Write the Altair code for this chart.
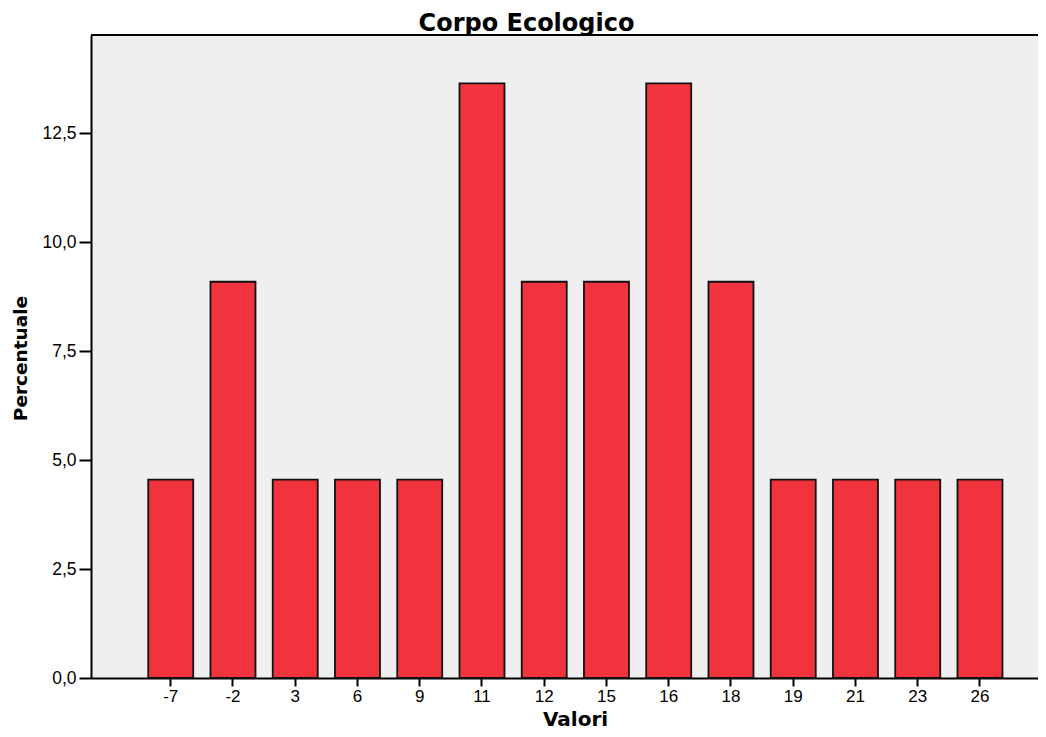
import altair as alt
import pandas as pd

valori = ["-7", "-2", "3", "6", "9", "11", "12", "15", "16", "18", "19", "21", "23", "26"]
percentuale = [4.55, 9.09, 4.55, 4.55, 4.55, 13.64, 9.09, 9.09, 13.64, 9.09, 4.55, 4.55, 4.55, 4.55]
y_ticks = [0, 2.5, 5, 7.5, 10, 12.5]
titolo = ["Corpo Ecologico"]

df = pd.DataFrame({"Valori": valori, "Percentuale": percentuale})

W, H = 947, 643

bars = alt.Chart(df).mark_bar(fill="#F0333C", stroke="#111111", strokeWidth=1.8).encode(
    x=alt.X(
        "Valori:O",
        sort=valori,
        scale=alt.Scale(paddingInner=0.277, paddingOuter=0.745, align=0.617),
        axis=alt.Axis(
            title="Valori",
            labelAngle=0,
            labelFontSize=17,
            tickSize=8,
            labelPadding=2,
            titleX=484,
            titleY=47,
            titleBaseline="alphabetic",
            titleAlign="center",
            titleFontSize=20,
        ),
    ),
    y=alt.Y(
        "Percentuale:Q",
        scale=alt.Scale(domain=[0, 14.75], nice=False, zero=True),
        axis=alt.Axis(
            title="Percentuale",
            values=y_ticks,
            labelExpr="replace(format(datum.value, '.1f'), '.', ',')",
            grid=False,
            tickSize=12,
            labelPadding=3,
            titleX=-71,
            titleY=323,
            titleAngle=270,
            titleBaseline="middle",
            titleAlign="center",
            titleFontSize=18.5,
        ),
    ),
)

top = alt.Chart(pd.DataFrame({"a": [0]})).mark_rule(color="black", strokeWidth=2).encode(
    x=alt.value(0), x2=alt.value(W), y=alt.value(0)
)

title = alt.Chart(pd.DataFrame({"t": titolo})).mark_text(
    font="DejaVu Sans",
    fontSize=24,
    fontWeight="bold",
    color="black",
    align="center",
    baseline="alphabetic",
).encode(text="t:N", x=alt.value(435.5), y=alt.value(-4))

chart = (
    alt.layer(bars, top, title)
    .properties(
        width=W,
        height=H,
        autosize=alt.AutoSizeParams(type="none"),
        padding={"left": 83, "top": 27, "right": 0, "bottom": 51},
    )
    .configure_view(fill="#EFEFEF", stroke="transparent")
    .configure_axis(
        domainColor="black",
        domainWidth=2,
        tickColor="black",
        tickWidth=2,
        labelColor="black",
        labelFont="Liberation Sans",
        labelFontSize=17.5,
        titleFont="DejaVu Sans",
        titleFontWeight="bold",
        titleColor="black",
    )
)

chart.save("out.html", embed_options={"renderer": "svg", "actions": False})
